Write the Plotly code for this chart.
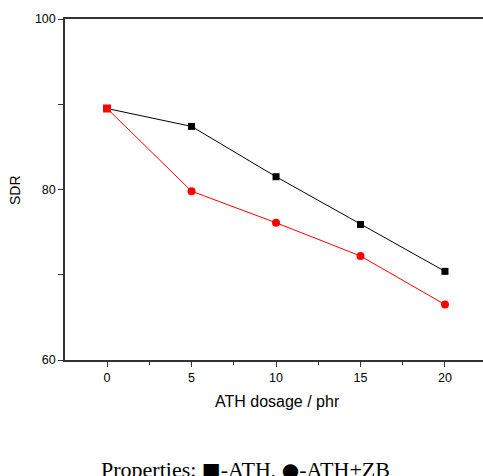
import plotly.graph_objects as go

dosage = [0, 5, 10, 15, 20]
sdr_ath = [89.5, 87.4, 81.5, 75.9, 70.4]
sdr_ath_zb = [89.5, 79.8, 76.1, 72.2, 66.5]
x_ticks = [0, 5, 10, 15, 20]
y_ticks = [60, 80, 100]

W, H = 483, 476
L, R, T, B = 65, 0, 19, 116
PW, PH = W - L - R, H - T - B

fig = go.Figure()
fig.add_trace(go.Scatter(x=dosage, y=sdr_ath, mode="lines+markers",
                         line=dict(color="black", width=1),
                         marker=dict(symbol="square", size=7, color="black", opacity=1,
                                     line=dict(width=0)),
                         name="ATH", cliponaxis=False))
fig.add_trace(go.Scatter(x=dosage, y=sdr_ath_zb, mode="lines+markers",
                         line=dict(color="red", width=1),
                         marker=dict(symbol=["square", "circle", "circle", "circle", "circle"],
                                     size=8, color="#ff0000", opacity=1,
                                     line=dict(width=0)),
                         name="ATH+ZB", cliponaxis=False))

axis_font = dict(family="Liberation Sans, Arial", size=12.5, color="black")
glyph = "<span style='font-family:DejaVu Sans;font-size:20px'>{}</span>"
fig.update_layout(
    width=W, height=H,
    margin=dict(l=L, r=R, t=T, b=B),
    plot_bgcolor="white", paper_bgcolor="white",
    showlegend=False,
    xaxis=dict(range=[-2.49, 22.25], tickvals=x_ticks, ticks="outside", ticklen=5,
               tickcolor="#333", tickwidth=1, showline=True, linecolor="#333", linewidth=1.5,
               mirror=True, showgrid=False, zeroline=False, tickfont=axis_font,
               minor=dict(dtick=2.5, tick0=0, ticks="outside", ticklen=3, tickcolor="#333", showgrid=False)),
    yaxis=dict(range=[60, 100], tickvals=y_ticks, ticks="outside", ticklen=5,
               tickcolor="#333", tickwidth=1, showline=True, linecolor="#333", linewidth=1.5,
               mirror=False, showgrid=False, zeroline=False, tickfont=axis_font,
               minor=dict(dtick=10, tick0=60, ticks="outside", ticklen=5, tickcolor="#333", showgrid=False)),
    annotations=[
        dict(text="ATH dosage / phr", xref="paper", yref="paper", x=(277 - L) / PW,
             y=-(402 - T - PH) / PH, xanchor="center", yanchor="middle",
             showarrow=False, font=dict(family="Liberation Sans, Arial", size=16, color="black")),
        dict(text="SDR", xref="paper", yref="paper", x=-(L - 15) / PW, y=(T + PH - 190) / PH,
             textangle=-90, xanchor="center", yanchor="middle", showarrow=False,
             font=dict(family="Liberation Sans, Arial", size=14, color="black")),
        dict(text="Properties: " + glyph.format("\u25A0") + "-ATH, " + glyph.format("\u25CF") + "-ATH+ZB",
             xref="paper", yref="paper",
             x=(245 - L) / PW, y=-(469 - T - PH) / PH,
             xanchor="center", yanchor="middle", showarrow=False,
             font=dict(family="Liberation Serif, Times New Roman", size=22, color="black")),
    ],
)

fig.write_html("out.html")
